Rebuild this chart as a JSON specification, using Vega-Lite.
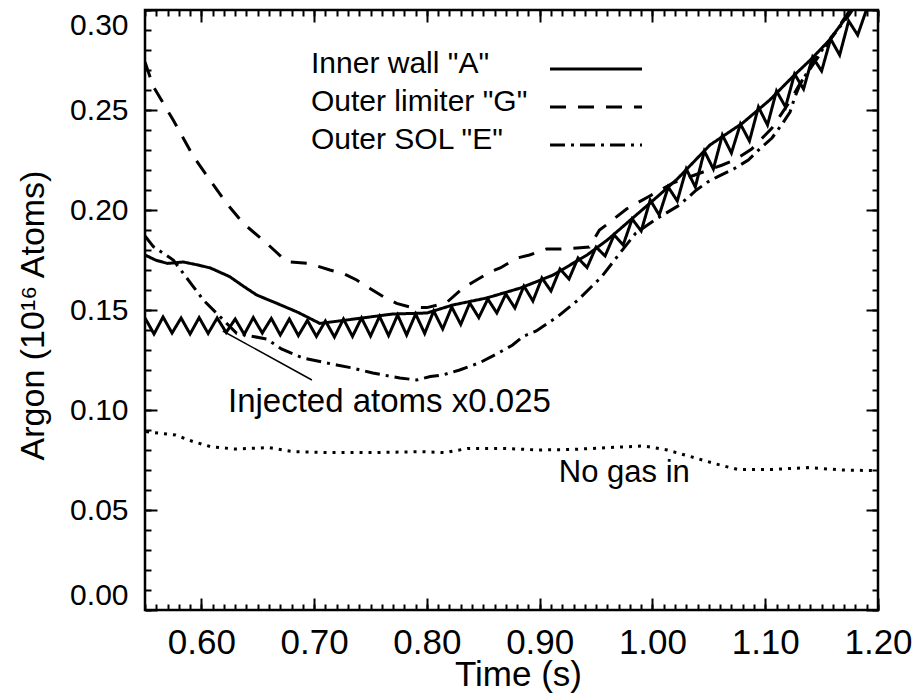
{
"$schema": "https://vega.github.io/schema/vega-lite/v6.json",
"width": 733, "height": 600,
"autosize": {"type": "none"},
"padding": {"left": 145, "top": 10, "right": 44, "bottom": 88},
"background": "white",
"config": {"font": "Liberation Sans", "view": {"stroke": "black", "strokeWidth": 2.5},
  "axis": {"grid": false, "domain": false, "tickColor": "black", "labelColor": "black", "titleColor": "black", "tickWidth": 2, "labelFont": "Liberation Sans", "titleFont": "Liberation Sans", "titleFontWeight": "normal"}},
"datasets": {
"curves": [
{"t":0.550,"v":0.1775,"s":"Inner wall \"A\""},{"t":0.560,"v":0.1748,"s":"Inner wall \"A\""},{"t":0.570,"v":0.1733,"s":"Inner wall \"A\""},{"t":0.584,"v":0.174,"s":"Inner wall \"A\""},{"t":0.597,"v":0.1725,"s":"Inner wall \"A\""},{"t":0.608,"v":0.171,"s":"Inner wall \"A\""},{"t":0.625,"v":0.1667,"s":"Inner wall \"A\""},{"t":0.637,"v":0.162,"s":"Inner wall \"A\""},{"t":0.649,"v":0.1575,"s":"Inner wall \"A\""},{"t":0.667,"v":0.1533,"s":"Inner wall \"A\""},{"t":0.685,"v":0.149,"s":"Inner wall \"A\""},{"t":0.705,"v":0.1433,"s":"Inner wall \"A\""},{"t":0.729,"v":0.145,"s":"Inner wall \"A\""},{"t":0.752,"v":0.1467,"s":"Inner wall \"A\""},{"t":0.770,"v":0.148,"s":"Inner wall \"A\""},{"t":0.800,"v":0.1485,"s":"Inner wall \"A\""},{"t":0.823,"v":0.1525,"s":"Inner wall \"A\""},{"t":0.853,"v":0.156,"s":"Inner wall \"A\""},{"t":0.883,"v":0.161,"s":"Inner wall \"A\""},{"t":0.912,"v":0.1675,"s":"Inner wall \"A\""},{"t":0.942,"v":0.1775,"s":"Inner wall \"A\""},{"t":0.960,"v":0.185,"s":"Inner wall \"A\""},{"t":0.977,"v":0.1933,"s":"Inner wall \"A\""},{"t":1.000,"v":0.2045,"s":"Inner wall \"A\""},{"t":1.022,"v":0.2155,"s":"Inner wall \"A\""},{"t":1.051,"v":0.2325,"s":"Inner wall \"A\""},{"t":1.080,"v":0.2435,"s":"Inner wall \"A\""},{"t":1.104,"v":0.255,"s":"Inner wall \"A\""},{"t":1.125,"v":0.267,"s":"Inner wall \"A\""},{"t":1.140,"v":0.275,"s":"Inner wall \"A\""},{"t":1.157,"v":0.285,"s":"Inner wall \"A\""},{"t":1.172,"v":0.2965,"s":"Inner wall \"A\""},{"t":1.182,"v":0.305,"s":"Inner wall \"A\""},
{"t":0.550,"v":0.274,"s":"Outer limiter \"G\""},{"t":0.5574,"v":0.2617,"s":"Outer limiter \"G\""},{"t":0.575,"v":0.245,"s":"Outer limiter \"G\""},{"t":0.593,"v":0.2267,"s":"Outer limiter \"G\""},{"t":0.6076,"v":0.215,"s":"Outer limiter \"G\""},{"t":0.6224,"v":0.2033,"s":"Outer limiter \"G\""},{"t":0.6372,"v":0.1933,"s":"Outer limiter \"G\""},{"t":0.658,"v":0.1833,"s":"Outer limiter \"G\""},{"t":0.6756,"v":0.1742,"s":"Outer limiter \"G\""},{"t":0.695,"v":0.1733,"s":"Outer limiter \"G\""},{"t":0.714,"v":0.17,"s":"Outer limiter \"G\""},{"t":0.7258,"v":0.1683,"s":"Outer limiter \"G\""},{"t":0.7377,"v":0.165,"s":"Outer limiter \"G\""},{"t":0.7495,"v":0.1608,"s":"Outer limiter \"G\""},{"t":0.7613,"v":0.1567,"s":"Outer limiter \"G\""},{"t":0.7731,"v":0.1533,"s":"Outer limiter \"G\""},{"t":0.785,"v":0.1515,"s":"Outer limiter \"G\""},{"t":0.800,"v":0.1512,"s":"Outer limiter \"G\""},{"t":0.817,"v":0.1535,"s":"Outer limiter \"G\""},{"t":0.832,"v":0.161,"s":"Outer limiter \"G\""},{"t":0.841,"v":0.164,"s":"Outer limiter \"G\""},{"t":0.856,"v":0.169,"s":"Outer limiter \"G\""},{"t":0.865,"v":0.171,"s":"Outer limiter \"G\""},{"t":0.880,"v":0.176,"s":"Outer limiter \"G\""},{"t":0.891,"v":0.1775,"s":"Outer limiter \"G\""},{"t":0.906,"v":0.1805,"s":"Outer limiter \"G\""},{"t":0.918,"v":0.1805,"s":"Outer limiter \"G\""},{"t":0.933,"v":0.181,"s":"Outer limiter \"G\""},{"t":0.944,"v":0.1815,"s":"Outer limiter \"G\""},{"t":0.953,"v":0.19,"s":"Outer limiter \"G\""},{"t":0.959,"v":0.1925,"s":"Outer limiter \"G\""},{"t":0.977,"v":0.2005,"s":"Outer limiter \"G\""},{"t":0.996,"v":0.2065,"s":"Outer limiter \"G\""},{"t":1.018,"v":0.2135,"s":"Outer limiter \"G\""},{"t":1.040,"v":0.218,"s":"Outer limiter \"G\""},{"t":1.062,"v":0.2225,"s":"Outer limiter \"G\""},{"t":1.073,"v":0.225,"s":"Outer limiter \"G\""},{"t":1.088,"v":0.2305,"s":"Outer limiter \"G\""},{"t":1.106,"v":0.241,"s":"Outer limiter \"G\""},{"t":1.122,"v":0.2545,"s":"Outer limiter \"G\""},{"t":1.131,"v":0.2633,"s":"Outer limiter \"G\""},{"t":1.150,"v":0.279,"s":"Outer limiter \"G\""},{"t":1.165,"v":0.2915,"s":"Outer limiter \"G\""},{"t":1.180,"v":0.304,"s":"Outer limiter \"G\""},
{"t":0.550,"v":0.187,"s":"Outer SOL \"E\""},{"t":0.5574,"v":0.1817,"s":"Outer SOL \"E\""},{"t":0.5751,"v":0.175,"s":"Outer SOL \"E\""},{"t":0.584,"v":0.1683,"s":"Outer SOL \"E\""},{"t":0.5928,"v":0.1617,"s":"Outer SOL \"E\""},{"t":0.6017,"v":0.155,"s":"Outer SOL \"E\""},{"t":0.6165,"v":0.1467,"s":"Outer SOL \"E\""},{"t":0.6313,"v":0.1383,"s":"Outer SOL \"E\""},{"t":0.658,"v":0.1355,"s":"Outer SOL \"E\""},{"t":0.671,"v":0.1305,"s":"Outer SOL \"E\""},{"t":0.690,"v":0.126,"s":"Outer SOL \"E\""},{"t":0.720,"v":0.1225,"s":"Outer SOL \"E\""},{"t":0.734,"v":0.121,"s":"Outer SOL \"E\""},{"t":0.752,"v":0.1185,"s":"Outer SOL \"E\""},{"t":0.776,"v":0.116,"s":"Outer SOL \"E\""},{"t":0.791,"v":0.115,"s":"Outer SOL \"E\""},{"t":0.803,"v":0.1167,"s":"Outer SOL \"E\""},{"t":0.814,"v":0.1175,"s":"Outer SOL \"E\""},{"t":0.829,"v":0.12,"s":"Outer SOL \"E\""},{"t":0.847,"v":0.1237,"s":"Outer SOL \"E\""},{"t":0.865,"v":0.129,"s":"Outer SOL \"E\""},{"t":0.876,"v":0.1325,"s":"Outer SOL \"E\""},{"t":0.885,"v":0.1367,"s":"Outer SOL \"E\""},{"t":0.897,"v":0.1395,"s":"Outer SOL \"E\""},{"t":0.916,"v":0.1467,"s":"Outer SOL \"E\""},{"t":0.934,"v":0.155,"s":"Outer SOL \"E\""},{"t":0.955,"v":0.1667,"s":"Outer SOL \"E\""},{"t":0.971,"v":0.1783,"s":"Outer SOL \"E\""},{"t":0.985,"v":0.1883,"s":"Outer SOL \"E\""},{"t":1.002,"v":0.195,"s":"Outer SOL \"E\""},{"t":1.024,"v":0.2025,"s":"Outer SOL \"E\""},{"t":1.039,"v":0.21,"s":"Outer SOL \"E\""},{"t":1.049,"v":0.214,"s":"Outer SOL \"E\""},{"t":1.058,"v":0.2167,"s":"Outer SOL \"E\""},{"t":1.072,"v":0.2205,"s":"Outer SOL \"E\""},{"t":1.085,"v":0.225,"s":"Outer SOL \"E\""},{"t":1.096,"v":0.231,"s":"Outer SOL \"E\""},{"t":1.106,"v":0.236,"s":"Outer SOL \"E\""},{"t":1.115,"v":0.243,"s":"Outer SOL \"E\""},{"t":1.122,"v":0.249,"s":"Outer SOL \"E\""},{"t":1.126,"v":0.256,"s":"Outer SOL \"E\""},{"t":1.131,"v":0.263,"s":"Outer SOL \"E\""},{"t":1.145,"v":0.276,"s":"Outer SOL \"E\""},{"t":1.160,"v":0.287,"s":"Outer SOL \"E\""},{"t":1.175,"v":0.298,"s":"Outer SOL \"E\""},{"t":1.185,"v":0.307,"s":"Outer SOL \"E\""},
{"t":0.551,"v":0.0892,"s":"No gas in"},{"t":0.577,"v":0.0875,"s":"No gas in"},{"t":0.5926,"v":0.0842,"s":"No gas in"},{"t":0.608,"v":0.0817,"s":"No gas in"},{"t":0.629,"v":0.0805,"s":"No gas in"},{"t":0.660,"v":0.0812,"s":"No gas in"},{"t":0.681,"v":0.0792,"s":"No gas in"},{"t":0.712,"v":0.0787,"s":"No gas in"},{"t":0.7535,"v":0.0787,"s":"No gas in"},{"t":0.795,"v":0.0792,"s":"No gas in"},{"t":0.8158,"v":0.0787,"s":"No gas in"},{"t":0.8365,"v":0.0808,"s":"No gas in"},{"t":0.8677,"v":0.0808,"s":"No gas in"},{"t":0.8988,"v":0.08,"s":"No gas in"},{"t":0.930,"v":0.0803,"s":"No gas in"},{"t":0.961,"v":0.0812,"s":"No gas in"},{"t":0.992,"v":0.082,"s":"No gas in"},{"t":1.013,"v":0.08,"s":"No gas in"},{"t":1.0338,"v":0.0767,"s":"No gas in"},{"t":1.0545,"v":0.0733,"s":"No gas in"},{"t":1.0753,"v":0.0703,"s":"No gas in"},{"t":1.1064,"v":0.0703,"s":"No gas in"},{"t":1.1376,"v":0.0712,"s":"No gas in"},{"t":1.1687,"v":0.07,"s":"No gas in"},{"t":1.197,"v":0.0697,"s":"No gas in"},
{"t":0.550,"v":0.146,"s":"Injected"},{"t":0.558,"v":0.138,"s":"Injected"},{"t":0.566,"v":0.1465,"s":"Injected"},{"t":0.574,"v":0.1385,"s":"Injected"},{"t":0.582,"v":0.146,"s":"Injected"},{"t":0.590,"v":0.138,"s":"Injected"},{"t":0.598,"v":0.1462,"s":"Injected"},{"t":0.606,"v":0.1383,"s":"Injected"},{"t":0.614,"v":0.146,"s":"Injected"},{"t":0.622,"v":0.1388,"s":"Injected"},{"t":0.630,"v":0.1455,"s":"Injected"},{"t":0.638,"v":0.1378,"s":"Injected"},{"t":0.646,"v":0.1462,"s":"Injected"},{"t":0.654,"v":0.1385,"s":"Injected"},{"t":0.662,"v":0.1458,"s":"Injected"},{"t":0.670,"v":0.1375,"s":"Injected"},{"t":0.678,"v":0.1455,"s":"Injected"},{"t":0.686,"v":0.1372,"s":"Injected"},{"t":0.694,"v":0.1448,"s":"Injected"},{"t":0.702,"v":0.1368,"s":"Injected"},{"t":0.710,"v":0.1445,"s":"Injected"},{"t":0.718,"v":0.1365,"s":"Injected"},{"t":0.726,"v":0.1455,"s":"Injected"},{"t":0.734,"v":0.1368,"s":"Injected"},{"t":0.742,"v":0.146,"s":"Injected"},{"t":0.750,"v":0.137,"s":"Injected"},{"t":0.758,"v":0.1468,"s":"Injected"},{"t":0.766,"v":0.1372,"s":"Injected"},{"t":0.774,"v":0.1475,"s":"Injected"},{"t":0.782,"v":0.1375,"s":"Injected"},{"t":0.790,"v":0.148,"s":"Injected"},{"t":0.798,"v":0.1383,"s":"Injected"},{"t":0.806,"v":0.1495,"s":"Injected"},{"t":0.814,"v":0.1405,"s":"Injected"},{"t":0.822,"v":0.1515,"s":"Injected"},{"t":0.830,"v":0.1428,"s":"Injected"},{"t":0.838,"v":0.1535,"s":"Injected"},{"t":0.846,"v":0.1462,"s":"Injected"},{"t":0.854,"v":0.1555,"s":"Injected"},{"t":0.862,"v":0.1485,"s":"Injected"},{"t":0.870,"v":0.158,"s":"Injected"},{"t":0.878,"v":0.151,"s":"Injected"},{"t":0.886,"v":0.162,"s":"Injected"},{"t":0.894,"v":0.1545,"s":"Injected"},{"t":0.902,"v":0.166,"s":"Injected"},{"t":0.910,"v":0.1595,"s":"Injected"},{"t":0.918,"v":0.1705,"s":"Injected"},{"t":0.926,"v":0.1655,"s":"Injected"},{"t":0.934,"v":0.176,"s":"Injected"},{"t":0.942,"v":0.1712,"s":"Injected"},{"t":0.950,"v":0.1815,"s":"Injected"},{"t":0.958,"v":0.177,"s":"Injected"},{"t":0.966,"v":0.1875,"s":"Injected"},{"t":0.974,"v":0.1825,"s":"Injected"},{"t":0.982,"v":0.1955,"s":"Injected"},{"t":0.990,"v":0.1895,"s":"Injected"},{"t":0.998,"v":0.205,"s":"Injected"},{"t":1.006,"v":0.1975,"s":"Injected"},{"t":1.014,"v":0.2115,"s":"Injected"},{"t":1.022,"v":0.2045,"s":"Injected"},{"t":1.030,"v":0.2205,"s":"Injected"},{"t":1.038,"v":0.2115,"s":"Injected"},{"t":1.046,"v":0.2295,"s":"Injected"},{"t":1.054,"v":0.2205,"s":"Injected"},{"t":1.062,"v":0.2375,"s":"Injected"},{"t":1.070,"v":0.2285,"s":"Injected"},{"t":1.078,"v":0.243,"s":"Injected"},{"t":1.086,"v":0.2345,"s":"Injected"},{"t":1.094,"v":0.2515,"s":"Injected"},{"t":1.102,"v":0.2425,"s":"Injected"},{"t":1.110,"v":0.2595,"s":"Injected"},{"t":1.118,"v":0.2515,"s":"Injected"},{"t":1.126,"v":0.268,"s":"Injected"},{"t":1.134,"v":0.2605,"s":"Injected"},{"t":1.142,"v":0.2765,"s":"Injected"},{"t":1.150,"v":0.2695,"s":"Injected"},{"t":1.158,"v":0.2855,"s":"Injected"},{"t":1.166,"v":0.2775,"s":"Injected"},{"t":1.174,"v":0.2945,"s":"Injected"},{"t":1.182,"v":0.2875,"s":"Injected"},{"t":1.190,"v":0.3005,"s":"Injected"}
],
"pointer": [{"t":0.619,"v":0.1395},{"t":0.698,"v":0.115}],
"notes": [{"t":0.6236,"v":0.099,"label":"Injected atoms x0.025"},{"t":0.917,"v":0.064,"label":"No gas in"}]
},
"layer": [
{
"data": {"name": "curves"},
"mark": {"type": "line", "strokeWidth": 3, "color": "black", "clip": true, "strokeCap": "butt"},
"encoding": {
"x": {"field": "t", "type": "quantitative", "scale": {"domain": [0.55, 1.2], "nice": false, "zero": false},
 "axis": {"orient": "bottom", "values": [0.6,0.7,0.8,0.9,1.0,1.1,1.2], "format": ".2f",
  "tickSize": 12, "offset": -12, "labelPadding": 15, "labelFontSize": 35, "labelFlush": false, "labelOverlap": false, "labelBound": false,
  "title": "Time (s)", "titleFontSize": 35, "titleX": 373, "titleY": 87, "titleBaseline": "alphabetic", "titleAlign": "center"}},
"y": {"field": "v", "type": "quantitative", "scale": {"domain": [0, 0.3], "nice": false},
 "axis": {"orient": "left", "values": [0,0.05,0.1,0.15,0.2,0.25,0.3], "format": ".2f",
  "tickSize": 12, "offset": -12, "labelPadding": 17, "labelFontSize": 30, "labelFlush": true, "labelOverlap": false,
  "title": "Argon (10¹⁶ Atoms)", "titleFontSize": 34, "titleAngle": -90, "titleX": -114, "titleY": 305, "titleBaseline": "alphabetic", "titleAlign": "center"}},
"strokeDash": {"field": "s", "type": "nominal",
 "scale": {"domain": ["Inner wall \"A\"", "Outer limiter \"G\"", "Outer SOL \"E\"", "Injected", "No gas in"], "range": [[1,0],[16,12],[15,6,3,6],[1,0],[3,6]]},
 "legend": {"values": ["Inner wall \"A\"", "Outer limiter \"G\"", "Outer SOL \"E\""], "orient": "none", "legendX": 436, "legendY": 44, "title": null, "padding": 0,
  "symbolType": "M-4,0H4", "symbolSize": 529, "symbolStrokeWidth": 3, "symbolStrokeColor": "black", "symbolFillColor": "transparent",
  "labelFontSize": 30, "labelFont": "Liberation Sans", "labelColor": "black", "labelLimit": 400, "labelOffset": -300, "labelBaseline": "middle",
  "rowPadding": 8,
  "encode": {"labels": {"update": {"dy": {"value": -5}}}}}}
}
},
{
"data": {"name": "pointer"},
"mark": {"type": "line", "strokeWidth": 1.5, "color": "black"},
"encoding": {
"x": {"field": "t", "type": "quantitative",
 "axis": {"orient": "bottom", "labels": false, "title": null, "tickSize": 6, "offset": -6,
  "values": [0.55,0.56,0.57,0.58,0.59,0.6,0.61,0.62,0.63,0.64,0.65,0.66,0.67,0.68,0.69,0.7,0.71,0.72,0.73,0.74,0.75,0.76,0.77,0.78,0.79,0.8,0.81,0.82,0.83,0.84,0.85,0.86,0.87,0.88,0.89,0.9,0.91,0.92,0.93,0.94,0.95,0.96,0.97,0.98,0.99,1.0,1.01,1.02,1.03,1.04,1.05,1.06,1.07,1.08,1.09,1.1,1.11,1.12,1.13,1.14,1.15,1.16,1.17,1.18,1.19,1.2]}},
"y": {"field": "v", "type": "quantitative",
 "axis": {"orient": "left", "labels": false, "title": null, "tickSize": 6, "offset": -6,
  "values": [0,0.01,0.02,0.03,0.04,0.05,0.06,0.07,0.08,0.09,0.1,0.11,0.12,0.13,0.14,0.15,0.16,0.17,0.18,0.19,0.2,0.21,0.22,0.23,0.24,0.25,0.26,0.27,0.28,0.29,0.3]}}
}
},
{
"data": {"name": "notes"},
"transform": [{"filter": "datum.label == 'Injected atoms x0.025'"}],
"mark": {"type": "text", "fontSize": 33, "align": "left", "baseline": "alphabetic", "color": "black", "font": "Liberation Sans"},
"encoding": {
"x": {"field": "t", "type": "quantitative",
 "axis": {"orient": "top", "labels": false, "title": null, "tickSize": 12, "offset": -12, "values": [0.6,0.7,0.8,0.9,1.0,1.1,1.2]}},
"y": {"field": "v", "type": "quantitative",
 "axis": {"orient": "right", "labels": false, "title": null, "tickSize": 12, "offset": -12, "values": [0,0.05,0.1,0.15,0.2,0.25,0.3]}},
"text": {"field": "label"}}
},
{
"data": {"name": "notes"},
"transform": [{"filter": "datum.label == 'No gas in'"}],
"mark": {"type": "text", "fontSize": 31, "align": "left", "baseline": "alphabetic", "color": "black", "font": "Liberation Sans"},
"encoding": {
"x": {"field": "t", "type": "quantitative",
 "axis": {"orient": "top", "labels": false, "title": null, "tickSize": 6, "offset": -6,
  "values": [0.55,0.56,0.57,0.58,0.59,0.6,0.61,0.62,0.63,0.64,0.65,0.66,0.67,0.68,0.69,0.7,0.71,0.72,0.73,0.74,0.75,0.76,0.77,0.78,0.79,0.8,0.81,0.82,0.83,0.84,0.85,0.86,0.87,0.88,0.89,0.9,0.91,0.92,0.93,0.94,0.95,0.96,0.97,0.98,0.99,1.0,1.01,1.02,1.03,1.04,1.05,1.06,1.07,1.08,1.09,1.1,1.11,1.12,1.13,1.14,1.15,1.16,1.17,1.18,1.19,1.2]}},
"y": {"field": "v", "type": "quantitative",
 "axis": {"orient": "right", "labels": false, "title": null, "tickSize": 6, "offset": -6,
  "values": [0,0.01,0.02,0.03,0.04,0.05,0.06,0.07,0.08,0.09,0.1,0.11,0.12,0.13,0.14,0.15,0.16,0.17,0.18,0.19,0.2,0.21,0.22,0.23,0.24,0.25,0.26,0.27,0.28,0.29,0.3]}},
"text": {"field": "label"}}
}
],
"resolve": {"axis": {"x": "independent", "y": "independent"}}
}
